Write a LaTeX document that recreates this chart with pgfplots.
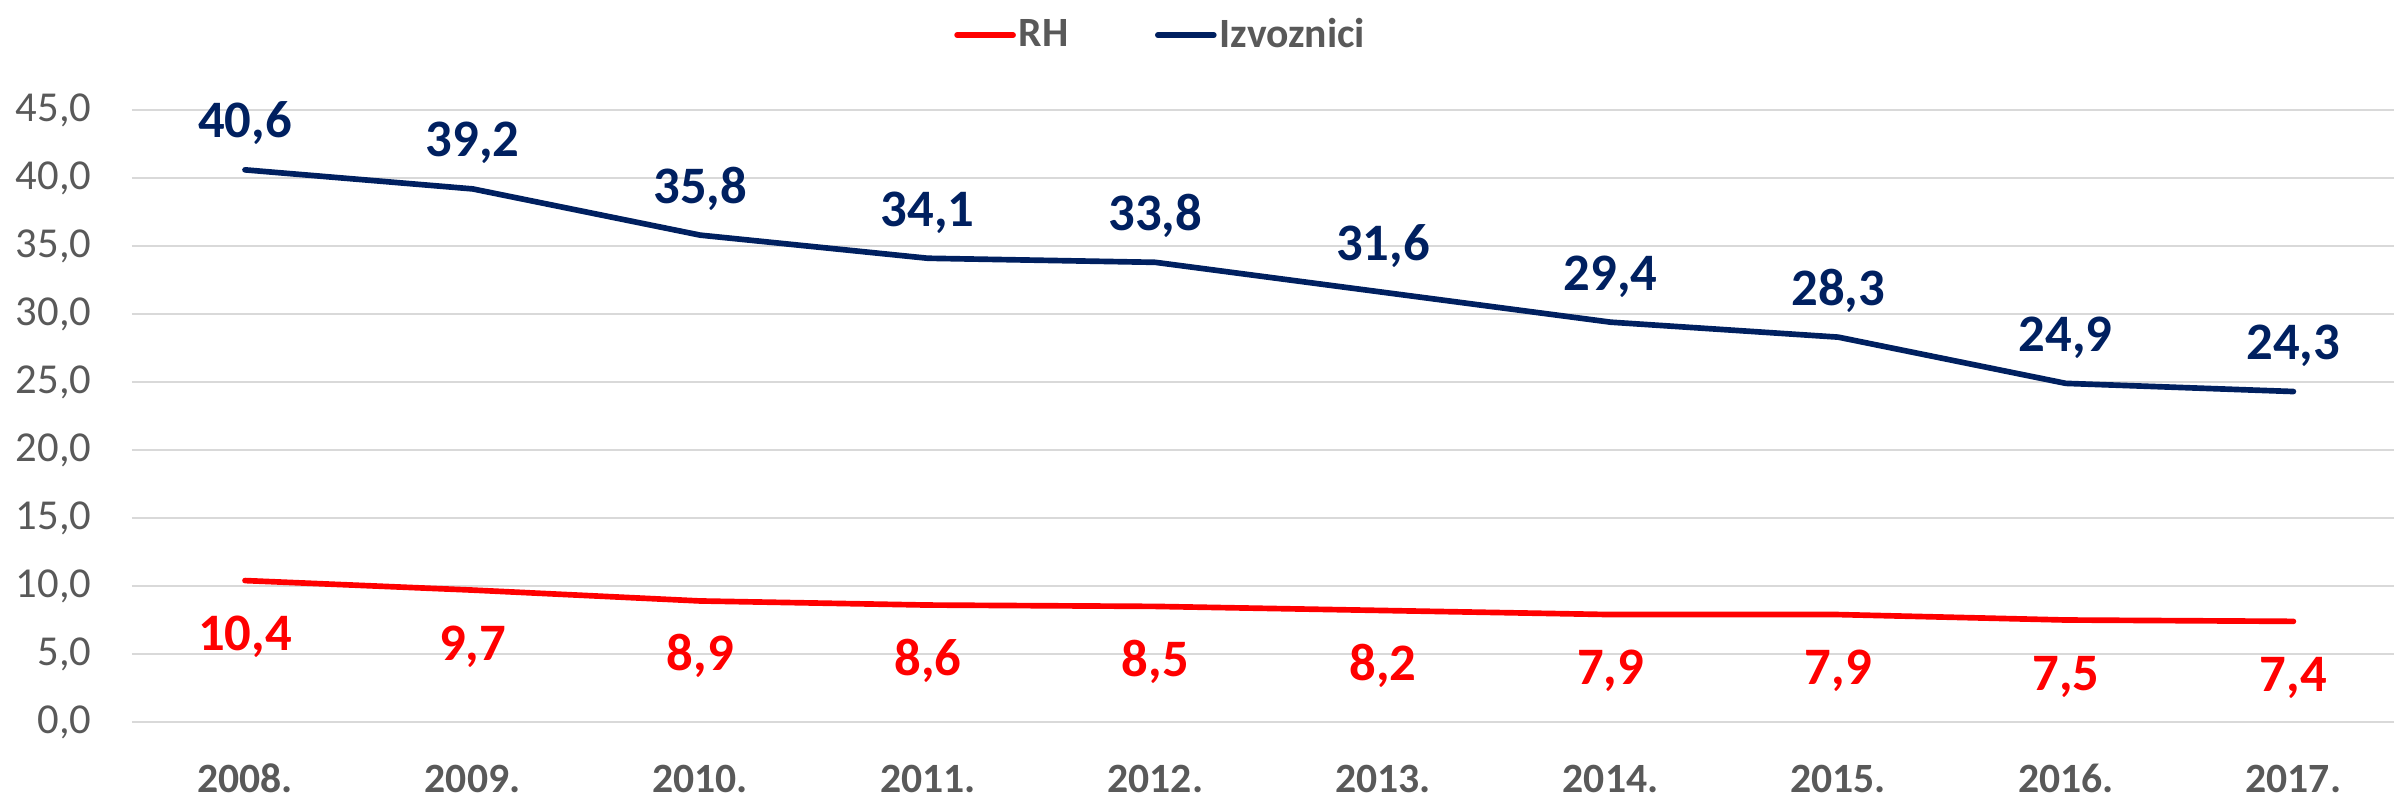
\documentclass[border=0pt]{standalone}
\usepackage{pgfplots}
\pgfplotsset{compat=1.18}
\usepackage{fontspec}
\setmainfont{Carlito}
\definecolor{navy}{HTML}{002060}
\definecolor{redc}{HTML}{FF0000}
\definecolor{tgray}{HTML}{595959}
\definecolor{gridc}{HTML}{D9D9D9}
\begin{document}
\begin{tikzpicture}
\begin{axis}[
  at={(0pt,0pt)}, anchor=south west,
  scale only axis, width=678.6pt, height=183.6pt,
  xmin=-0.4965, xmax=9.442, ymin=0, ymax=45,
  ytick={0,5,...,45},
  xtick={0,...,9},
  xticklabels={2008.,2009.,2010.,2011.,2012.,2013.,2014.,2015.,2016.,2017.},
  ymajorgrids, grid style={gridc, line width=0.5pt},
  axis line style={draw=none}, major tick style={draw=none},
  clip=false,
  /pgf/number format/.cd, use comma, fixed, fixed zerofill, precision=1, assume math mode=true,
  /pgfplots/.cd,
  yticklabel style={font=\fontsize{12.8}{14}\selectfont, text=tgray, anchor=east, inner sep=0pt, xshift=-12pt},
  xticklabel style={font=\bfseries\fontsize{12.5}{14}\selectfont, text=tgray, anchor=base, inner sep=0pt, yshift=-21pt},
  legend style={at={(0.455,1.1225)}, anchor=center, draw=none, fill=none,
    legend columns=-1, font=\bfseries\fontsize{12.5}{14}\selectfont, text=tgray,
    nodes={inner sep=0.9pt},
    /tikz/every even column/.append style={column sep=25pt}},
  legend image code/.code={\draw[#1, line cap=round] (0pt,0pt) -- (16.8pt,0pt);},
  every axis plot/.append style={line width=1.7pt, line cap=round, line join=round},
]
\addplot[redc, mark=none,
  nodes near coords,
  every node near coord/.append style={anchor=base, yshift=-21pt, inner sep=0pt, text=redc, font=\bfseries\fontsize{15.8}{18}\selectfont}]
  coordinates {(0,10.4) (1,9.7) (2,8.9) (3,8.6) (4,8.5) (5,8.2) (6,7.9) (7,7.9) (8,7.5) (9,7.4)};
\addlegendentry{RH}
\addplot[navy, mark=none,
  nodes near coords,
  every node near coord/.append style={anchor=base, yshift=9.6pt, inner sep=0pt, text=navy, font=\bfseries\fontsize{15.8}{18}\selectfont}]
  coordinates {(0,40.6) (1,39.2) (2,35.8) (3,34.1) (4,33.8) (5,31.6) (6,29.4) (7,28.3) (8,24.9) (9,24.3)};
\addlegendentry{Izvoznici}
\end{axis}
\pgfresetboundingbox
\path[use as bounding box] (-39.6pt,-22.8pt) rectangle (678.6pt,216.6pt);
\end{tikzpicture}
\end{document}
